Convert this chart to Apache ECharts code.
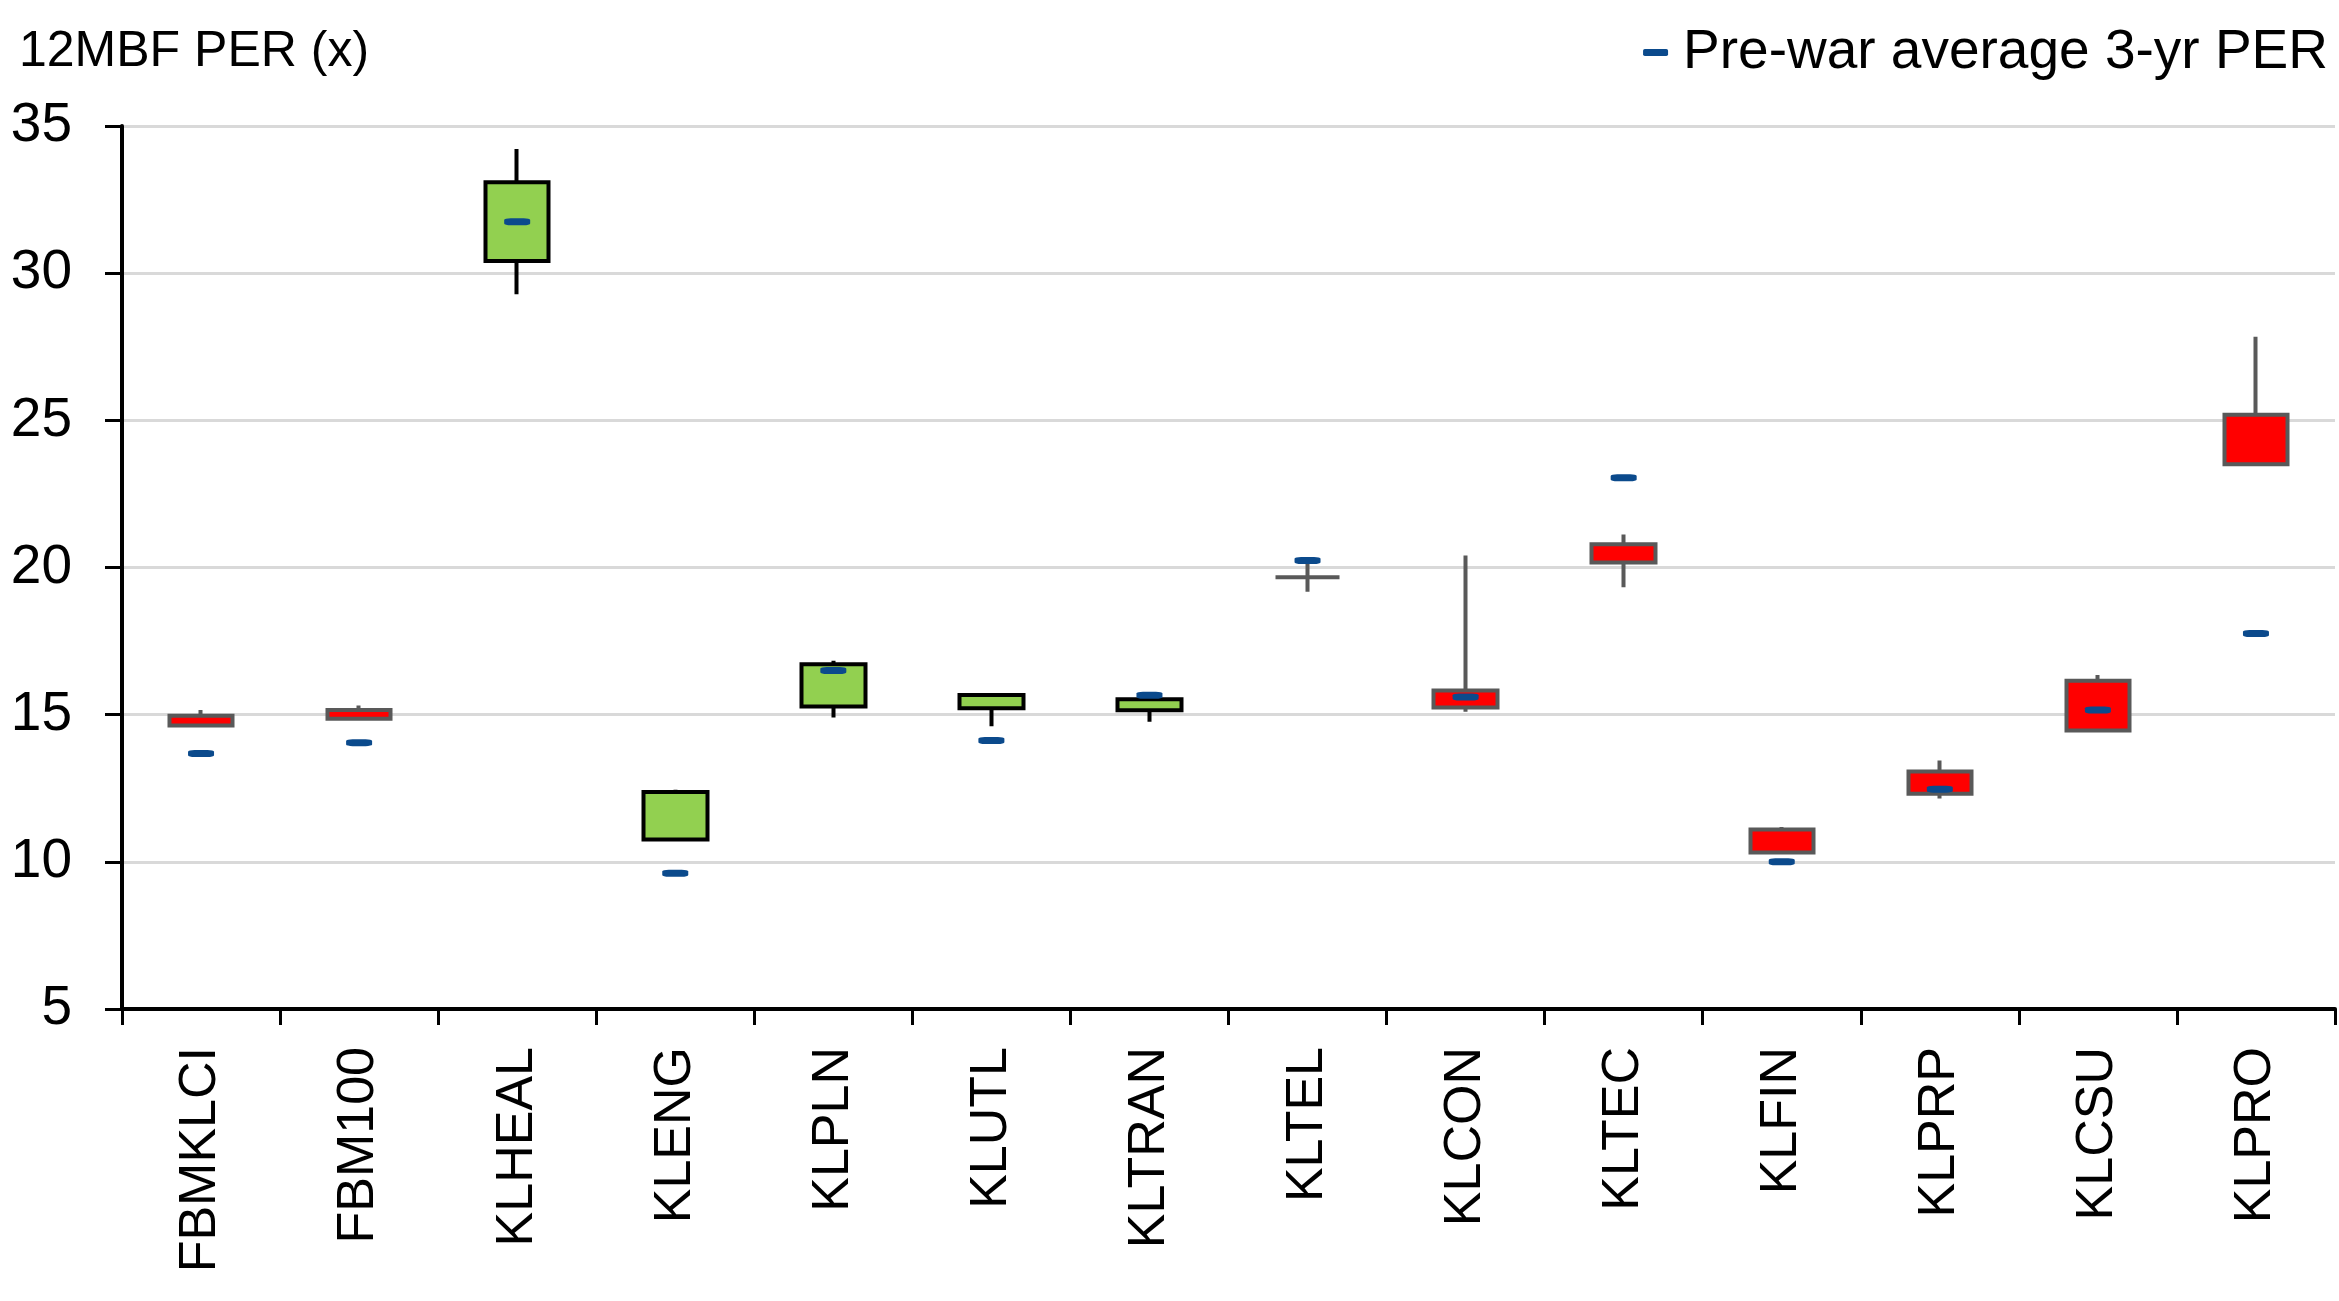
<!DOCTYPE html>
<html>
<head>
<meta charset="utf-8">
<script src="https://cdn.jsdelivr.net/npm/echarts@6/dist/echarts.min.js"></script>
<style>
html,body{margin:0;padding:0;background:#fff;}
#chart{width:2339px;height:1301px;}
</style>
</head>
<body>
<div id="chart"></div>
<script>
const categories = ['FBMKLCI','FBM100','KLHEAL','KLENG','KLPLN','KLUTL','KLTRAN','KLTEL','KLCON','KLTEC','KLFIN','KLPRP','KLCSU','KLPRO'];
const openVals  = [14.96, 15.16, 30.41, 10.76, 15.28, 15.22, 15.15, 19.67, 15.82, 20.79, 11.10, 13.07, 16.15, 25.19];
const closeVals = [14.63, 14.86, 33.09, 12.37, 16.71, 15.67, 15.52, 19.67, 15.24, 20.17, 10.32, 12.31, 14.46, 23.51];
const lowVals   = [14.63, 14.86, 29.28, 10.76, 14.90, 14.61, 14.76, 19.18, 15.10, 19.33, 10.32, 12.15, 14.46, 23.51];
const highVals  = [15.16, 15.31, 34.22, 12.45, 16.83, 15.67, 15.52, 20.15, 20.41, 21.12, 11.18, 13.44, 16.35, 27.84];
const preWarAvg = [13.68, 14.05, 31.75, 9.61, 16.50, 14.12, 15.66, 20.24, 15.60, 23.05, 10.00, 12.47, 15.16, 17.76];
const yTicks = [5, 10, 15, 20, 25, 30, 35];

const candleData = categories.map((c, i) => [openVals[i], closeVals[i], lowVals[i], highVals[i]]);

const FONT = '"Liberation Sans", Arial, sans-serif';
const chart = echarts.init(document.getElementById('chart'));
chart.setOption({
  animation: false,
  backgroundColor: '#ffffff',
  title: {
    text: '12MBF PER (x)',
    left: 14, top: 22,
    textStyle: { fontFamily: FONT, fontSize: 50, fontWeight: 'normal', color: '#000' }
  },
  legend: {
    data: ['Pre-war average 3-yr PER'],
    right: 6, top: 20,
    icon: 'roundRect',
    itemWidth: 25, itemHeight: 7, itemGap: 12,
    textStyle: { fontFamily: FONT, fontSize: 55, color: '#000', padding: [0, 0, 0, 10] }
  },
  grid: { left: 122, right: 4, top: 126, bottom: 292, containLabel: false },
  xAxis: {
    type: 'category',
    data: categories,
    boundaryGap: true,
    axisLine: { lineStyle: { color: '#000', width: 4 } },
    axisTick: { show: true, alignWithLabel: false, length: 16, lineStyle: { color: '#000', width: 3 } },
    axisLabel: { rotate: 90, margin: 38, fontFamily: FONT, fontSize: 52, color: '#000', interval: 0 },
    splitLine: { show: false }
  },
  yAxis: {
    type: 'value',
    min: yTicks[0], max: yTicks[yTicks.length - 1], interval: 5,
    axisLine: { show: true, lineStyle: { color: '#000', width: 4 } },
    axisTick: { show: true, length: 17, lineStyle: { color: '#000', width: 3 } },
    axisLabel: { margin: 50, fontFamily: FONT, fontSize: 55, color: '#000' },
    splitLine: { show: true, lineStyle: { color: '#d9d9d9', width: 3 } }
  },
  series: [
    {
      type: 'candlestick',
      name: 'PER range',
      data: candleData,
      barWidth: 64,
      itemStyle: {
        color: '#92d050',
        color0: '#ff0000',
        borderColor: '#000000',
        borderColor0: '#595959',
        borderColorDoji: '#595959',
        borderWidth: 4
      },
      z: 2
    },
    {
      type: 'scatter',
      name: 'Pre-war average 3-yr PER',
      data: preWarAvg,
      symbol: 'roundRect',
      symbolSize: [26, 7],
      itemStyle: { color: '#0b4a8c', opacity: 1 },
      z: 5
    }
  ]
});
</script>
</body>
</html>
